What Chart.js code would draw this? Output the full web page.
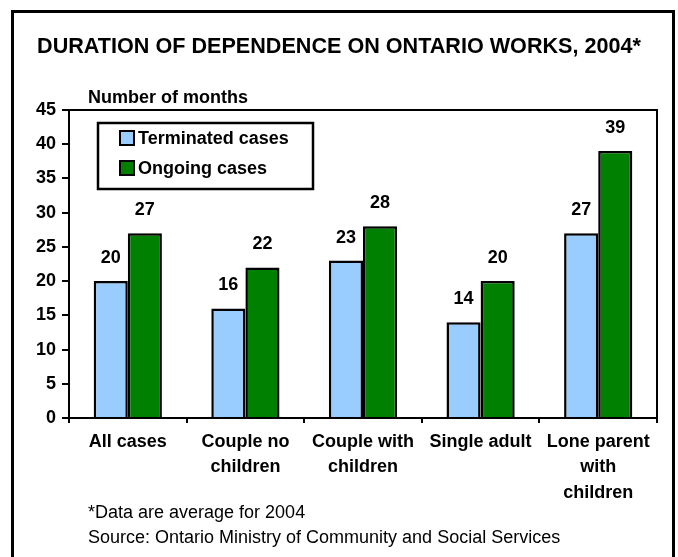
<!DOCTYPE html>
<html>
<head>
<meta charset="utf-8">
<script src="https://cdn.jsdelivr.net/npm/chart.js@4.4.1/dist/chart.umd.min.js"></script>
<style>
  html, body { margin: 0; padding: 0; background: #fff; }
  #wrap { width: 678px; height: 557px; position: relative; }
</style>
</head>
<body>
<div id="wrap"><canvas id="chart" width="678" height="557"></canvas></div>
<script>
// categories (multi-line labels) and the two series, in months
var categories = [
  ['All cases'],
  ['Couple no', 'children'],
  ['Couple with', 'children'],
  ['Single adult'],
  ['Lone parent', 'with', 'children']
];
var terminated = [20, 16, 23, 14, 27];
var ongoing = [27, 22, 28, 20, 39];
var seriesNames = ['Terminated cases', 'Ongoing cases'];
var yTicks = [0, 5, 10, 15, 20, 25, 30, 35, 40, 45];

var titleText = 'DURATION OF DEPENDENCE ON ONTARIO WORKS, 2004*';
var axisTitle = 'Number of months';
var notes = ['*Data are average for 2004', 'Source: Ontario Ministry of Community and Social Services'];

const FONT = "'Liberation Sans', Arial, sans-serif";
const BLUE = '#99CCFF';
const GREEN = '#008000';

// frame, titles, legend box, notes and the value labels
const decor = {
  id: 'decor',
  beforeDraw(chart){
    const ctx = chart.ctx;
    ctx.save();
    ctx.fillStyle = '#fff';
    ctx.fillRect(0, 0, chart.width, chart.height);
    ctx.strokeStyle = '#000';
    ctx.lineWidth = 3;
    ctx.beginPath();
    ctx.moveTo(12.5, chart.height);
    ctx.lineTo(12.5, 11.5);
    ctx.lineTo(673.5, 11.5);
    ctx.lineTo(673.5, chart.height);
    ctx.stroke();
    ctx.restore();
  },
  afterDatasetsDraw(chart){
    const ctx = chart.ctx;
    const a = chart.chartArea;
    ctx.save();
    // top + right edge of plot area
    ctx.strokeStyle = '#000';
    ctx.lineWidth = 2;
    ctx.beginPath();
    ctx.moveTo(a.left, a.top);
    ctx.lineTo(a.right, a.top);
    ctx.lineTo(a.right, a.bottom);
    ctx.stroke();

    // value labels above bars
    ctx.fillStyle = '#000';
    ctx.font = 'bold 18px ' + FONT;
    ctx.textAlign = 'center';
    ctx.textBaseline = 'middle';
    chart.data.datasets.forEach((ds, i) => {
      chart.getDatasetMeta(i).data.forEach((bar, j) => {
        ctx.fillText(String(ds.data[j]), bar.x, bar.y - 23);
      });
    });

    // legend box
    const lx = 98, ly = 123, lw = 215, lh = 66;
    ctx.fillStyle = '#fff';
    ctx.fillRect(lx, ly, lw, lh);
    ctx.lineWidth = 2.5;
    ctx.strokeRect(lx, ly, lw, lh);
    ctx.textAlign = 'left';
    chart.data.datasets.forEach((ds, i) => {
      const cy = 138 + i * 30;
      ctx.fillStyle = ds.backgroundColor;
      ctx.fillRect(120, cy - 7, 14, 14);
      ctx.lineWidth = 2;
      ctx.strokeRect(120, cy - 7, 14, 14);
      ctx.fillStyle = '#000';
      ctx.fillText(ds.label, 138, cy + 1);
    });
    ctx.restore();
  },
  afterDraw(chart){
    const ctx = chart.ctx;
    ctx.save();
    ctx.fillStyle = '#000';
    ctx.textBaseline = 'middle';
    ctx.textAlign = 'center';
    ctx.font = 'bold 21.6px ' + FONT;
    ctx.fillText(titleText, 339, 47);
    ctx.textAlign = 'left';
    ctx.font = 'bold 18px ' + FONT;
    ctx.fillText(axisTitle, 88, 98);
    ctx.font = '18px ' + FONT;
    ctx.fillText(notes[0], 88, 513);
    ctx.fillText(notes[1], 88, 538);
    ctx.restore();
  }
};

new Chart(document.getElementById('chart'), {
  type: 'bar',
  data: {
    labels: categories,
    datasets: [
      { label: seriesNames[0], data: terminated, backgroundColor: BLUE, borderColor: '#000', borderWidth: 2.5 },
      { label: seriesNames[1], data: ongoing, backgroundColor: GREEN, borderColor: '#000', borderWidth: 2.5 }
    ]
  },
  options: {
    responsive: false,
    animation: false,
    devicePixelRatio: 1,
    layout: { padding: { left: 0, top: 110, right: 21, bottom: 0 } },
    datasets: { bar: { barPercentage: 1, categoryPercentage: 0.58 } },
    plugins: { legend: { display: false }, title: { display: false }, tooltip: { enabled: false } },
    scales: {
      x: {
        grid: { offset: true, drawOnChartArea: false, tickLength: 5, color: '#000', lineWidth: 2 },
        border: { color: '#000', width: 2 },
        ticks: { color: '#000', font: { family: FONT, size: 18, weight: 'bold', lineHeight: 1.42 }, padding: 6, maxRotation: 0, autoSkip: false },
        afterFit(s){ s.height = 139; }
      },
      y: {
        min: 0, max: 45,
        grid: { drawOnChartArea: false, tickLength: 7, color: '#000', lineWidth: 2 },
        border: { color: '#000', width: 2 },
        afterBuildTicks(s){ s.ticks = yTicks.map(v => ({ value: v })); },
        ticks: { color: '#000', font: { family: FONT, size: 18, weight: 'bold' }, padding: 6 },
        afterFit(s){ s.width = 69; }
      }
    }
  },
  plugins: [decor]
});
</script>
</body>
</html>
